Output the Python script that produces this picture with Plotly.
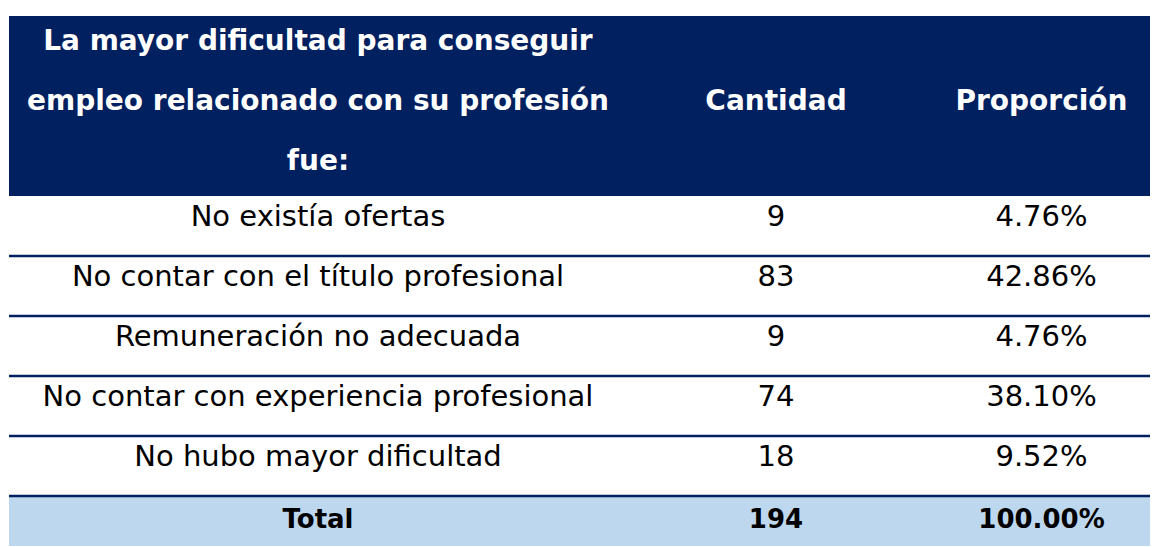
import plotly.graph_objects as go

# la página deja 8 px de margen en el body
W, H = 1150, 539

# encabezado en tres renglones (la primera columna ocupa los tres)
enc_dificultad = ["La mayor dificultad para conseguir",
                  "empleo relacionado con su profesión",
                  "fue:"]
enc_cantidad = ["", "Cantidad", ""]
enc_proporcion = ["", "Proporción", ""]

dificultades = ["No existía ofertas",
                "No contar con el título profesional",
                "Remuneración no adecuada",
                "No contar con experiencia profesional",
                "No hubo mayor dificultad"]
cantidades = [9, 83, 9, 74, 18]
proporciones = ["4.76%", "42.86%", "4.76%", "38.10%", "9.52%"]
fila_total = ["Total", "194", "100.00%"]

azul = "#002060"
celeste = "#BDD7EE"
fuente = "DejaVu Sans"

izq, arriba = 1, 8
alto_fila = 60
anchos = [618, 298, 233]

n_enc = len(enc_dificultad)
n_filas = n_enc + len(dificultades)
alto_tabla = alto_fila * n_filas
x_dom = [izq / W, 1]


def negrita(lista):
    return [f"<b>{v}</b>" if v != "" else "" for v in lista]


fig = go.Figure()
fig.add_trace(go.Table(
    domain=dict(x=x_dom, y=[1 - (arriba + alto_tabla) / H, 1 - arriba / H]),
    columnwidth=anchos,
    header=dict(values=[negrita(enc_dificultad), negrita(enc_cantidad), negrita(enc_proporcion)],
                fill_color=azul, line=dict(color=azul, width=0),
                font=dict(family=fuente, size=28, color="white"),
                align="center", height=alto_fila),
    cells=dict(values=[dificultades, cantidades, proporciones],
               fill_color="white", line=dict(color="white", width=0),
               font=dict(family=fuente, size=29, color="black"),
               align="center", height=alto_fila),
))

# fila del total como tabla aparte (más baja)
y_total = arriba + alto_tabla
fig.add_trace(go.Table(
    domain=dict(x=x_dom, y=[0, 1 - y_total / H]),
    columnwidth=anchos,
    header=dict(values=[f"<b>{t}</b>" for t in fila_total],
                fill_color=celeste, line=dict(color=celeste, width=0),
                font=dict(family=fuente, size=26, color="black"),
                align="center", height=H - y_total),
    cells=dict(values=[[], [], []], height=1),
))

# líneas horizontales entre filas del cuerpo
for i in range(1, len(dificultades) + 1):
    yp = arriba + alto_fila * (n_enc + i)
    fig.add_shape(type="line", xref="paper", yref="paper",
                  x0=x_dom[0], x1=x_dom[1], y0=1 - yp / H, y1=1 - yp / H,
                  line=dict(color=azul, width=2.5))

fig.update_layout(width=W, height=H, margin=dict(l=0, r=0, t=0, b=0),
                  paper_bgcolor="white", plot_bgcolor="white")
fig.write_html("out.html")
